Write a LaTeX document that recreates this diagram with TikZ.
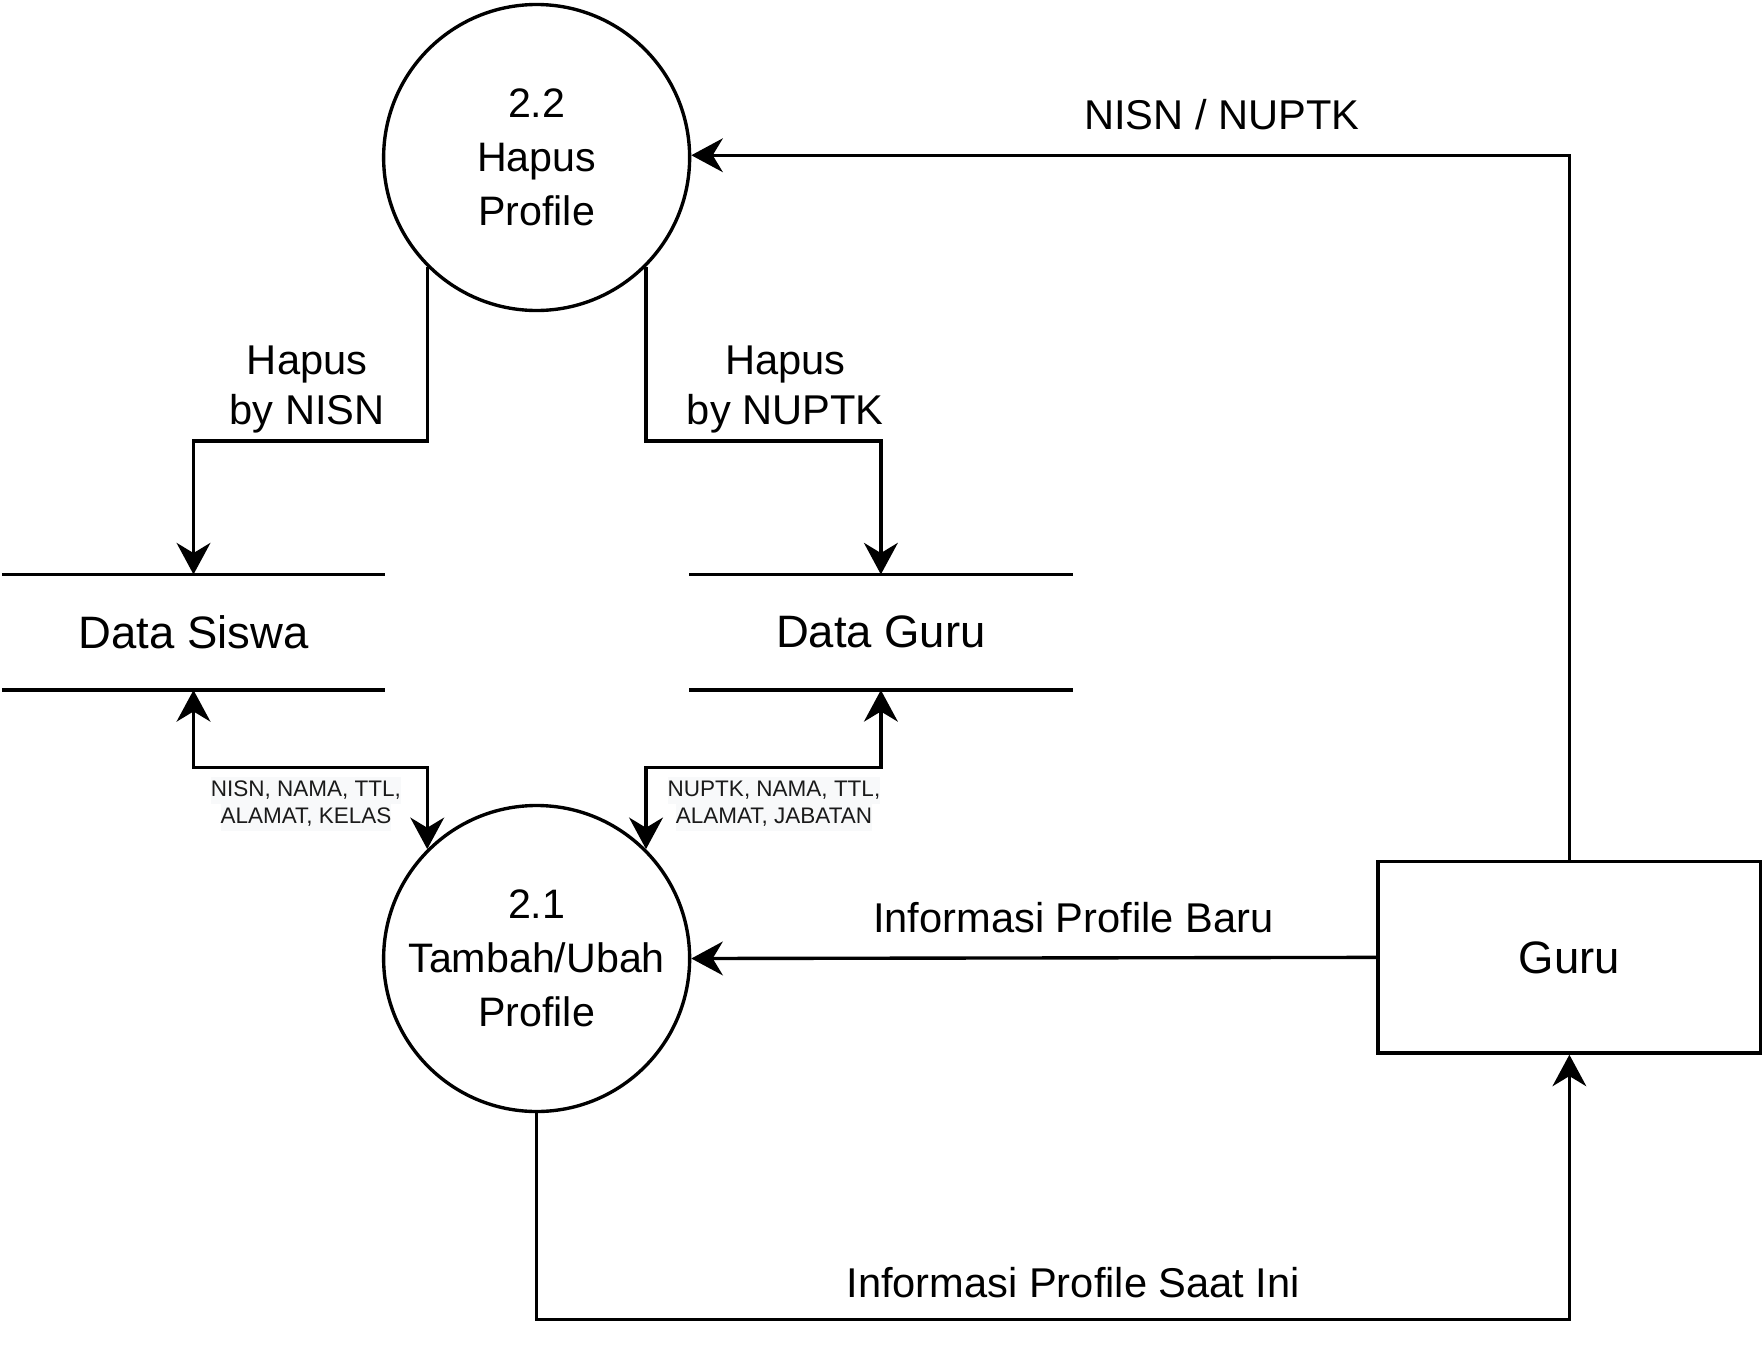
\documentclass[tikz,border=0pt]{standalone}
\usepackage{fontspec}
\setmainfont{Liberation Sans}
\usetikzlibrary{arrows.meta}
\definecolor{lblbg}{HTML}{F8F9FA}
\definecolor{lbltxt}{HTML}{1A1A1A}
\newcommand{\bgline}[1]{\colorbox{lblbg}{\strut #1}}
\tikzset{
  x=0.5pt, y=-0.5pt,
  tipA/.tip={Stealth[length=14pt,width=15pt,inset=4.5pt]},
  proc/.style={circle, draw, line width=1.5pt, minimum size=136pt, inner sep=0pt, align=center,
    font=\fontsize{18.3}{24}\selectfont},
  store/.style={minimum width=170pt, minimum height=51pt, inner sep=0pt,
    font=\fontsize{20.2}{24}\selectfont},
  ent/.style={draw, line width=1.5pt, minimum width=170pt, minimum height=85pt, inner sep=0pt,
    font=\fontsize{20.2}{24}\selectfont},
  flow/.style={line width=1.5pt, -tipA},
  bflow/.style={line width=1.5pt, tipA-tipA},
  lbl/.style={align=center, inner sep=0pt, font=\fontsize{18.5}{22}\selectfont},
  small/.style={align=center, inner sep=0pt, text=lbltxt, font=\fontsize{10}{12}\selectfont},
  sline/.style={line width=1.5pt}
}
\begin{document}
\begin{tikzpicture}
\useasboundingbox (0,0) rectangle (1568,1204.5);
% processes
\node[proc] (c22) at (477,140) {2.2\\Hapus\\Profile};
\node[proc] (c21) at (477,852) {2.1\\Tambah/Ubah\\Profile};
% stores
\node[store] (ds) at (172,562) {Data Siswa};
\node[store] (dg) at (783,562) {Data Guru};
\draw[sline] (ds.north west) -- (ds.north east) (ds.south west) -- (ds.south east);
\draw[sline] (dg.north west) -- (dg.north east) (dg.south west) -- (dg.south east);
% entity
\node[ent] (guru) at (1395,851) {Guru};
% helper coordinates
\coordinate (yH) at (0,392);
\coordinate (yB) at (0,682);
\coordinate (yT) at (0,138);
\coordinate (yS) at (0,1173);
% flows
\draw[flow] (guru.north) -- (guru.north |- yT) -- (c22.east |- yT);
\node[lbl] (l1) at (1086,102) {NISN / NUPTK};
\draw[flow] (c22.-135) -- (c22.-135 |- yH) -| (ds.north);
\node[lbl] (l2) at (273,346) {Hapus\\by NISN};
\draw[flow] (c22.-45) -- (c22.-45 |- yH) -| (dg.north);
\node[lbl] (l3) at (698,346) {Hapus\\by NUPTK};
\draw[bflow] (ds.south) |- (c21.135 |- yB) -- (c21.135);
\node[small] (l4) at (272,715) {\setlength{\fboxsep}{0pt}\bgline{NISN, NAMA, TTL,}\\\setlength{\fboxsep}{0pt}\bgline{ALAMAT, KELAS}};
\draw[bflow] (dg.south) |- (c21.45 |- yB) -- (c21.45);
\node[small] (l5) at (688,715) {\setlength{\fboxsep}{0pt}\bgline{NUPTK, NAMA, TTL,}\\\setlength{\fboxsep}{0pt}\bgline{ALAMAT, JABATAN}};
\draw[flow] (guru.west) -- (c21.east);
\node[lbl] (l6) at (954,816) {Informasi Profile Baru};
\draw[flow] (c21.south) -- (c21.south |- yS) -| (guru.south);
\node[lbl] (l7) at (954,1140) {Informasi Profile Saat Ini};
\end{tikzpicture}
\end{document}
